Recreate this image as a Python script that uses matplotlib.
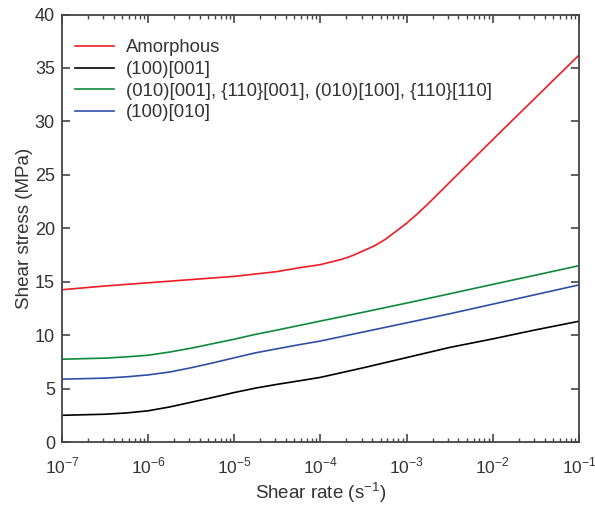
import numpy as np
import matplotlib
matplotlib.use("Agg")
import matplotlib.pyplot as plt
from matplotlib.ticker import LogLocator, NullFormatter

# shear rate exponents (log10 of s^-1)
rate_exp = [-7, -6.5, -6.25, -6, -5.75, -5.5, -5.25, -5, -4.75, -4.5, -4.25, -4,
            -3.5, -3, -2.5, -2, -1.5, -1]
rate_exp_amorph = [-7, -6.5, -6, -5.5, -5, -4.5, -4.25, -4, -3.875, -3.75, -3.625,
                   -3.5, -3.375, -3.25, -3.125, -3, -2.875, -2.75, -2.5, -2.25,
                   -2, -1.5, -1]
xtick_exp = [-7, -6, -5, -4, -3, -2, -1]

# shear stress (MPa)
amorphous = [14.25, 14.6, 14.9, 15.2, 15.5, 15.95, 16.3, 16.6, 16.85, 17.1, 17.45,
             17.9, 18.35, 18.95, 19.7, 20.47, 21.35, 22.3, 24.3, 26.3, 28.3, 32.25, 36.2]
s100_001 = [2.5, 2.6, 2.72, 2.92, 3.28, 3.72, 4.17, 4.63, 5.05, 5.4, 5.72, 6.05,
            6.95, 7.9, 8.85, 9.65, 10.5, 11.3]
s010_group = [7.75, 7.85, 7.97, 8.12, 8.42, 8.78, 9.2, 9.62, 10.08, 10.48, 10.9, 11.32,
              12.15, 13.0, 13.87, 14.75, 15.62, 16.5]
s100_010 = [5.88, 5.98, 6.1, 6.28, 6.55, 6.95, 7.4, 7.88, 8.35, 8.73, 9.1, 9.45,
            10.3, 11.15, 12.0, 12.9, 13.8, 14.7]

labels = ["Amorphous", "(100)[001]",
          "(010)[001], {110}[001], (010)[100], {110}[110]", "(100)[010]"]
colors = ["#ee1c24", "#000000", "#0f8a3c", "#2f4fa5"]

plt.rcParams['font.family'] = ['Liberation Sans', 'DejaVu Sans']
plt.rcParams['mathtext.fontset'] = 'custom'
plt.rcParams['mathtext.rm'] = 'Liberation Sans'
txt = "#333333"
edge = "#444444"

fig = plt.figure(figsize=(5.95, 5.11), dpi=100)
ax = fig.add_axes([0.104, 0.135, 0.869, 0.8365])

x = 10.0 ** np.array(rate_exp)
xa = 10.0 ** np.array(rate_exp_amorph)
ax.plot(xa, amorphous, color=colors[0], lw=1.2, label=labels[0])
ax.plot(x, s100_001, color=colors[1], lw=1.2, label=labels[1])
ax.plot(x, s010_group, color=colors[2], lw=1.2, label=labels[2])
ax.plot(x, s100_010, color=colors[3], lw=1.2, label=labels[3])

ax.set_xscale('log')
ax.set_xlim(1e-7, 1e-1)
ax.set_ylim(0, 40)
ax.set_yticks(range(0, 41, 5))
ax.set_xticks(10.0 ** np.array(xtick_exp))
ax.set_xticklabels([f"$10^{{{e}}}$" for e in xtick_exp])
ax.xaxis.set_minor_locator(LogLocator(base=10, subs=np.arange(2, 10), numticks=20))
ax.xaxis.set_minor_formatter(NullFormatter())

for s in ax.spines.values():
    s.set_color(edge)
    s.set_linewidth(1.3)
ax.tick_params(which='both', direction='in', top=True, right=True,
               colors=edge, labelcolor=txt, labelsize=13)
ax.tick_params(which='major', length=6, width=1.2, pad=5)
ax.tick_params(axis='x', which='major', pad=10, labelsize=12.5)
ax.tick_params(which='minor', length=3, width=1.0)

ax.set_xlabel("Shear rate (s$^{-1}$)", fontsize=13.5, color=txt, labelpad=3)
ax.set_ylabel("Shear stress (MPa)", fontsize=13.5, color=txt, labelpad=1)

ax.legend(loc='upper left', bbox_to_anchor=(0.025, 0.942), frameon=False,
          fontsize=13.3, borderpad=0, borderaxespad=0, labelspacing=0.25,
          handlelength=2.1, handletextpad=0.65, labelcolor=txt)

fig.savefig("out.png", dpi=100)
